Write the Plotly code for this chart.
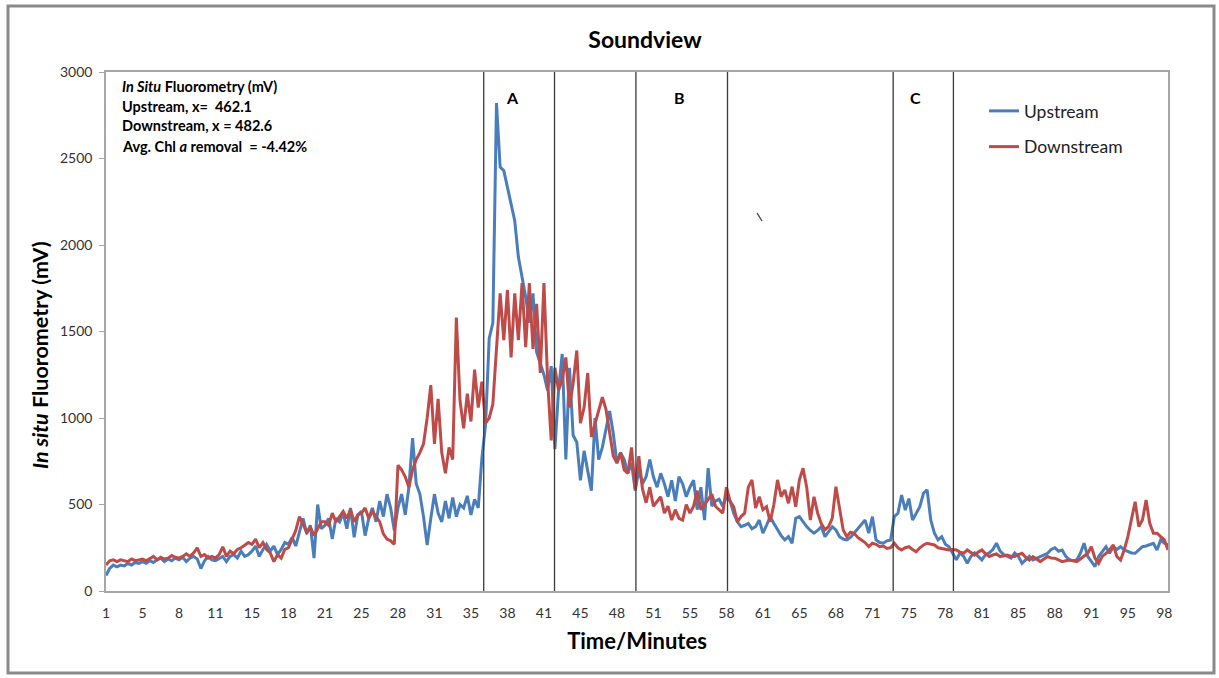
import plotly.graph_objects as go

# Sample index (20-s readings) and minute labels shown every 10 samples
tick_index = list(range(0, 300, 10))
tick_labels = ["1", "5", "8", "11", "15", "18", "21", "25", "28", "31", "35", "38", "41", "45", "48",
               "51", "55", "58", "61", "65", "68", "71", "75", "78", "81", "85", "88", "91", "95", "98"]

upstream = [
    90, 130, 150, 140, 150, 145, 160, 150, 165, 160,
    170, 160, 175, 165, 180, 190, 170, 185, 175, 190,
    180, 195, 170, 190, 200, 185, 130, 175, 200, 180,
    175, 190, 200, 170, 200, 210, 190, 230, 200, 210,
    230, 260, 200, 240, 270, 230, 260, 210, 240, 280,
    270, 310, 260, 340, 420, 330, 380, 190, 500, 360,
    380, 420, 300, 420, 400, 450, 360, 480, 310, 440,
    460, 320, 420, 480, 400, 520, 430, 560, 480, 350,
    480, 560, 440, 600, 884, 620, 560, 430, 266, 420,
    560, 450, 400, 520, 420, 540, 430, 500, 480, 550,
    440, 530, 480, 770, 960, 1460, 1550, 2820, 2450, 2430,
    2330, 2220, 2140, 1930, 1820, 1700, 1550, 1720, 1380, 1320,
    1250, 1160, 1300, 820, 1160, 1370, 760, 1290, 900, 860,
    640, 810, 690, 580, 1000, 760, 830, 930, 1040, 910,
    740, 800, 760, 680, 740, 580, 700, 620, 660, 760,
    660, 600, 680, 620, 545, 640, 520, 660, 620, 545,
    600, 640, 470, 600, 410, 710, 490, 520, 530, 490,
    545, 520, 449, 400, 372, 380, 391, 360, 372, 410,
    334, 380, 430, 390, 353, 320, 295, 314, 276, 420,
    430, 400, 372, 350, 334, 350, 372, 314, 340, 372,
    353, 314, 300, 295, 310, 334, 360, 380, 410, 334,
    430, 295, 280, 276, 290, 295, 430, 449, 555, 468,
    534, 410, 449, 487, 565, 584, 410, 334, 295, 314,
    270, 256, 218, 180, 220, 200, 160, 200, 220, 200,
    180, 210, 220, 240, 276, 230, 210, 200, 190, 220,
    200, 160, 180, 200, 180, 190, 200, 210, 218, 240,
    250, 230, 237, 200, 180, 175, 180, 218, 276, 200,
    170, 141, 199, 230, 256, 218, 256, 240, 256, 237,
    227, 220, 218, 240, 256, 260, 266, 276, 237, 295,
    276, 266,
]

downstream = [
    150, 175, 180, 170, 180, 175, 170, 185, 175, 180,
    185, 175, 190, 200, 180, 195, 185, 190, 205, 195,
    190, 200, 215, 200, 220, 250, 200, 210, 190, 200,
    190, 210, 255, 200, 230, 215, 240, 250, 265, 280,
    270, 300, 250, 280, 240, 220, 170, 210, 190, 240,
    250, 300, 350, 430, 380, 340, 370, 320, 360, 400,
    400, 380, 450, 400, 430, 460, 420, 470, 400, 440,
    450, 480, 420, 460, 430, 400, 330, 300, 290, 270,
    727, 700, 660, 600, 700, 760, 800, 850, 1000, 1190,
    850, 1110, 800, 680, 830, 760, 1580, 1100, 940, 1140,
    980, 1280, 1060, 1210, 970, 1000, 1080, 1390, 1720, 1450,
    1740, 1350, 1720, 1450, 1780, 1410, 1780, 1400, 1660, 1260,
    1780, 1220, 870, 1290, 1160, 1220, 1350, 1060, 1200, 1390,
    970, 1060, 1260, 890, 970, 1050, 1120, 1050, 910, 780,
    740, 800, 700, 680, 830, 590, 780, 590, 510, 600,
    490, 520, 545, 450, 490, 410, 470, 420, 410, 500,
    450, 490, 580, 470, 500, 530, 560, 490, 470, 450,
    600, 520, 487, 400, 430, 450, 600, 642, 480, 545,
    470, 487, 400, 500, 642, 545, 584, 507, 603, 487,
    642, 710, 600, 410, 545, 450, 390, 353, 372, 420,
    603, 487, 353, 314, 340, 334, 310, 295, 280, 256,
    276, 270, 256, 260, 246, 250, 276, 250, 237, 250,
    256, 240, 227, 250, 266, 276, 270, 266, 250, 246,
    240, 237, 240, 237, 225, 218, 237, 220, 208, 225,
    237, 215, 199, 208, 215, 199, 205, 208, 200, 199,
    210, 218, 195, 179, 199, 185, 170, 185, 199, 190,
    189, 180, 170, 175, 179, 175, 170, 185, 199, 218,
    256, 189, 160, 200, 218, 237, 266, 199, 179, 237,
    314, 410, 516, 372, 410, 526, 391, 334, 334, 314,
    295, 237,
]

# Treatment-period boundaries (sample index) and their section letters
period_bounds = [103.5, 122.9, 145.2, 170.3, 215.7, 232.2]
period_labels = ["A", "B", "C"]
period_label_x = [111.3, 157.1, 221.7]

summary_lines = [
    "<b><i>In Situ</i> Fluorometry (mV)</b>",
    "<b>Upstream, x=&nbsp; 462.1</b>",
    "<b>Downstream, x = 482.6</b>",
    "<b>Avg. Chl <i>a</i> removal&nbsp; = -4.42%</b>",
]

FONT = "Lato, Carlito, 'Open Sans', sans-serif"
W, H = 1219, 678
L, R, T, B = 106, 51, 72, 87
PW, PH = W - L - R, H - T - B


def px_x(p):
    return (p - L) / PW


def px_y(p):
    return (H - B - p) / PH


x_idx = list(range(len(upstream)))

fig = go.Figure()
fig.add_trace(go.Scatter(x=x_idx, y=upstream, mode="lines", name="Upstream",
                         legendgroup="u", line=dict(color="#4A7EBB", width=3)))
fig.add_trace(go.Scatter(x=x_idx, y=downstream, mode="lines", name="Downstream",
                         legendgroup="d", line=dict(color="#BE4B48", width=3)))

shapes = []
for xb in period_bounds:
    shapes.append(dict(type="line", xref="x", yref="paper", x0=xb, x1=xb, y0=0, y1=1,
                       line=dict(color="#3a3a3a", width=1.3), layer="above"))
# small stray stroke inside panel B
shapes.append(dict(type="line", xref="paper", yref="paper",
                   x0=px_x(757), x1=px_x(762), y0=px_y(213), y1=px_y(221),
                   line=dict(color="#444", width=1.4)))
# outer frame around the whole figure
shapes.append(dict(type="rect", xref="paper", yref="paper",
                   x0=px_x(8), x1=px_x(1214), y0=px_y(673), y1=px_y(6),
                   line=dict(color="#8a8a8a", width=3)))

annotations = []
for lab, xl in zip(period_labels, period_label_x):
    annotations.append(dict(x=xl, y=px_y(97), xref="x", yref="paper", text=f"<b>{lab}</b>",
                            showarrow=False, yanchor="middle",
                            font=dict(family=FONT, size=16, color="#000")))
for k, line in enumerate(summary_lines):
    annotations.append(dict(x=px_x(120), y=px_y(86 + 20 * k), xref="paper", yref="paper",
                            text=line, showarrow=False, xanchor="left", yanchor="middle",
                            font=dict(family=FONT, size=14.5, color="#000")))
# y-axis title, placed slightly below the panel's mid-height
annotations.append(dict(x=px_x(40), y=px_y(355), xref="paper", yref="paper",
                        text="<b><i>In situ</i> Fluorometry (mV)</b>", textangle=-90,
                        showarrow=False, xanchor="center", yanchor="middle",
                        font=dict(family=FONT, size=21.5, color="#000")))

fig.update_layout(
    width=W, height=H,
    margin=dict(l=L, r=R, t=T, b=B),
    paper_bgcolor="white", plot_bgcolor="white",
    title=dict(text="<b>Soundview</b>", x=645 / W, xanchor="center", y=1 - 40 / H,
               yanchor="middle", font=dict(family=FONT, size=23, color="#000")),
    showlegend=True,
    legend=dict(x=px_x(984), y=px_y(93), xanchor="left", yanchor="top",
                font=dict(family=FONT, size=17.5, color="#222"), bgcolor="rgba(0,0,0,0)",
                tracegroupgap=10),
    shapes=shapes,
    annotations=annotations,
    xaxis=dict(range=[0, len(upstream) - 1], tickmode="array", tickvals=tick_index,
               ticktext=tick_labels, showgrid=False, zeroline=False, ticks="",
               ticklabelstandoff=8,
               showline=True, linecolor="#a6a6a6", linewidth=1.5, mirror=True,
               tickfont=dict(family=FONT, size=14, color="#333"),
               title=dict(text="<b>Time/Minutes</b>", standoff=14,
                          font=dict(family=FONT, size=22, color="#000"))),
    yaxis=dict(range=[0, 3000], tickmode="array", tickvals=[0, 500, 1000, 1500, 2000, 2500, 3000],
               showgrid=False, zeroline=False, ticks="outside", ticklen=5, tickcolor="#a6a6a6",
               ticklabelstandoff=4,
               showline=True, linecolor="#a6a6a6", linewidth=1.5, mirror=True,
               tickfont=dict(family=FONT, size=14, color="#333")),
)

fig.write_html("out.html")
